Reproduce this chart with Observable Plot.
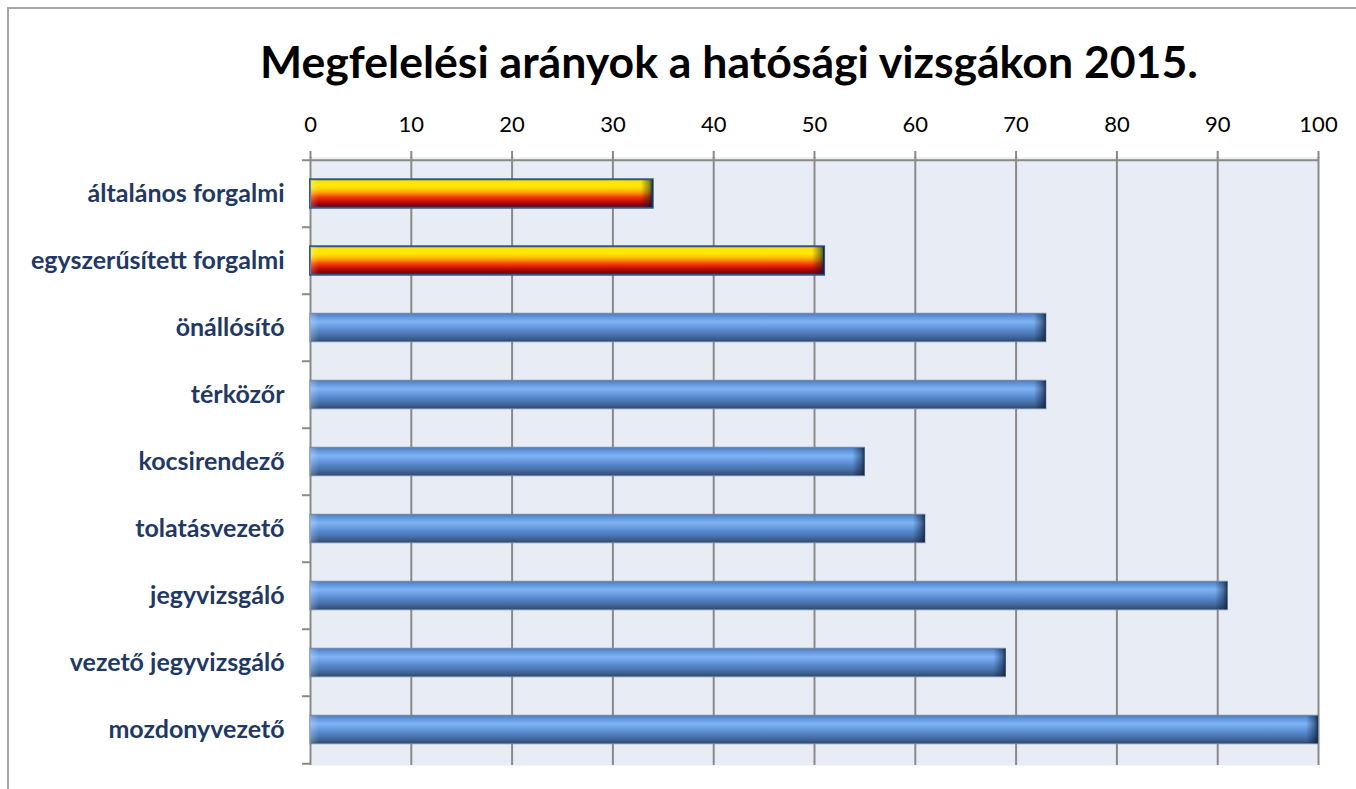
<!DOCTYPE html>
<html>
<head>
<meta charset="utf-8">
<script src="https://cdn.jsdelivr.net/npm/d3@7"></script>
<script src="https://cdn.jsdelivr.net/npm/@observablehq/plot@0.6"></script>
<style>
  html, body { margin: 0; padding: 0; background: #fff; overflow: hidden; }
  #wrap { position: relative; width: 1356px; height: 789px; }
  #border { position: absolute; left: 7px; top: 7px; right: -10px; bottom: -10px;
            border-left: 2px solid #a6a6a6; border-top: 2px solid #a6a6a6; }
  #title { position: absolute; left: 102px; width: 1254px; top: 36px; text-align: center;
           font-family: Lato, "Open Sans", sans-serif; font-weight: 700; font-size: 44.6px;
           color: #000; line-height: 50px; white-space: nowrap; }
  #chart { position: absolute; left: 0; top: 0; }
</style>
</head>
<body>
<div id="wrap">
  <div id="border"></div>
  <div id="chart"></div>
  <div id="title">Megfelelési arányok a hatósági vizsgákon 2015.</div>
</div>
<script>
const categories = [
  "általános forgalmi",
  "egyszerűsített forgalmi",
  "önállósító",
  "térközőr",
  "kocsirendező",
  "tolatásvezető",
  "jegyvizsgáló",
  "vezető jegyvizsgáló",
  "mozdonyvezető"
];
const values = [34, 51, 73, 73, 55, 61, 91, 69, 100];
const groups = ["forgalmi", "forgalmi", "egyéb", "egyéb", "egyéb", "egyéb", "egyéb", "egyéb", "egyéb"];
const xTicks = [0, 10, 20, 30, 40, 50, 60, 70, 80, 90, 100];

const data = categories.map((c, i) => ({name: c, value: values[i], group: groups[i]}));
const red = data.filter(d => d.group === "forgalmi");
const blue = data.filter(d => d.group !== "forgalmi");

const W = 1356, H = 789;
const mTop = 157, mBottom = 24, mLeft = 310, mRight = 38;
const step = (H - mTop - mBottom) / categories.length;
const inset = (step - 29) / 2;

const chart = Plot.plot({
  width: W,
  height: H,
  marginTop: mTop,
  marginBottom: mBottom,
  marginLeft: mLeft,
  marginRight: mRight,
  style: {fontFamily: "Lato, 'Open Sans', sans-serif", background: "transparent", overflow: "visible"},
  x: {domain: [0, 100], axis: null},
  y: {domain: categories, padding: 0, axis: null},
  marks: [
    Plot.frame({fill: "#e8ecf5", stroke: null}),
    Plot.ruleX(xTicks, {stroke: "#8a8a8a", strokeWidth: 2}),
    Plot.ruleY([categories[0]], {x1: 0, x2: 100, dy: -step / 2, stroke: "#8a8a8a", strokeWidth: 2}),
    Plot.ruleY(categories, {x1: -0.8, x2: 0, dy: -step / 2, stroke: "#8a8a8a", strokeWidth: 2, clip: false}),
    Plot.ruleY([categories[categories.length - 1]], {x1: -0.8, x2: 0, dy: step / 2, stroke: "#8a8a8a", strokeWidth: 2}),
    Plot.axisX({anchor: "top", ticks: xTicks, tickSize: 7, tickPadding: 19, stroke: "#8a8a8a", strokeWidth: 2,
                fontSize: 22, fill: "#000", tickFormat: d => String(d), label: null}),
    Plot.axisY({anchor: "left", tickSize: 0, tickPadding: 26, fontSize: 25, fontWeight: "bold", fill: "#1f3864", label: null}),
    Plot.barX(blue, {y: "name", x1: 0, x2: "value", insetTop: inset, insetBottom: inset,
                     fill: "url(#blueGrad)", stroke: "#6f87a8", strokeWidth: 1}),
    Plot.barX(red, {y: "name", x1: 0, x2: "value", insetTop: inset, insetBottom: inset,
                    fill: "url(#redGrad)", stroke: "#2f5788", strokeWidth: 2}),
    Plot.barX(data, {y: "name", x1: d => d.value - 1.2, x2: "value", insetTop: inset + 0.5, insetBottom: inset + 0.5,
                     fill: "url(#capGrad)"}),
    Plot.barX(data, {y: "name", x1: 0, x2: 0.9, insetTop: inset + 0.5, insetBottom: inset + 0.5,
                     fill: "url(#capLeft)"})
  ]
});

const svg = d3.select(chart);
const defs = svg.insert("defs", ":first-child");
function vgrad(id, stops) {
  const g = defs.append("linearGradient").attr("id", id)
    .attr("x1", 0).attr("y1", 0).attr("x2", 0).attr("y2", 1);
  stops.forEach(([o, c]) => g.append("stop").attr("offset", o).attr("stop-color", c));
}
vgrad("blueGrad", [
  [0, "#4f79b4"], [0.12, "#5f95dc"], [0.3, "#7fb3f3"], [0.45, "#6a9fe4"],
  [0.6, "#5788cc"], [0.75, "#4a75b0"], [0.9, "#3b5c8b"], [1, "#2d4767"]
]);
vgrad("redGrad", [
  [0, "#ffe000"], [0.25, "#ffe80a"], [0.38, "#ffc400"], [0.5, "#ff8a00"],
  [0.62, "#f04000"], [0.76, "#d01000"], [0.9, "#8a0010"], [1, "#4a0a18"]
]);
const cap = defs.append("linearGradient").attr("id", "capGrad")
  .attr("x1", 0).attr("y1", 0).attr("x2", 1).attr("y2", 0);
cap.append("stop").attr("offset", 0).attr("stop-color", "#0a1830").attr("stop-opacity", 0);
cap.append("stop").attr("offset", 0.7).attr("stop-color", "#0a1830").attr("stop-opacity", 0.45);
cap.append("stop").attr("offset", 1).attr("stop-color", "#0a1830").attr("stop-opacity", 0.8);
const capL = defs.append("linearGradient").attr("id", "capLeft")
  .attr("x1", 0).attr("y1", 0).attr("x2", 1).attr("y2", 0);
capL.append("stop").attr("offset", 0).attr("stop-color", "#ffffff").attr("stop-opacity", 0.25);
capL.append("stop").attr("offset", 1).attr("stop-color", "#ffffff").attr("stop-opacity", 0);

document.getElementById("chart").appendChild(chart);
</script>
</body>
</html>
